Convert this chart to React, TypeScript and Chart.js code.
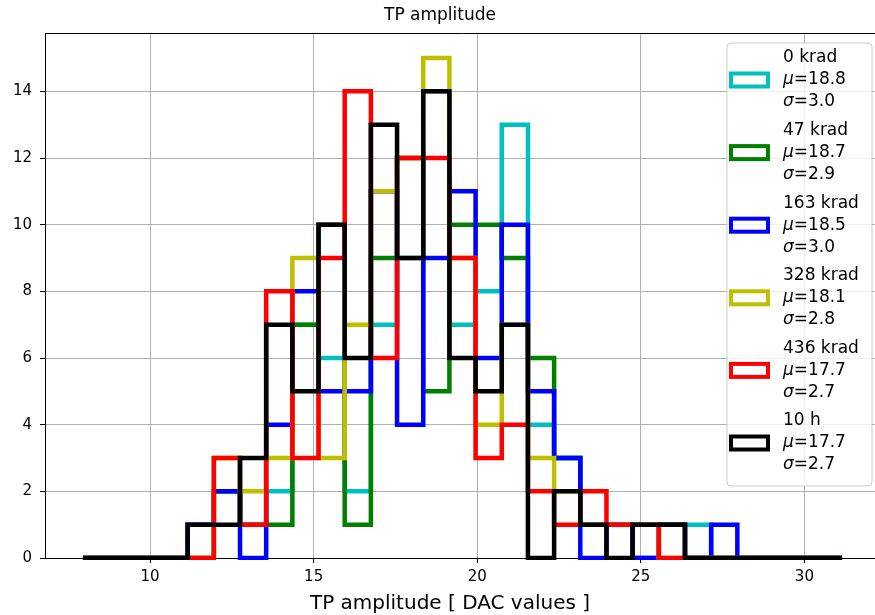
import { useEffect, useRef } from 'react';
import { Chart, registerables } from 'chart.js';

Chart.register(...registerables);

// Histogram binning (29 bins of 0.8 DAC units)
const BIN_START = 7.95;
const BIN_WIDTH = 0.8;

const seriesLabels = ['0 krad', '47 krad', '163 krad', '328 krad', '436 krad', '10 h'];
const seriesMeans = ['18.8', '18.7', '18.5', '18.1', '17.7', '17.7'];
const seriesSigmas = ['3.0', '2.9', '3.0', '2.8', '2.7', '2.7'];
const seriesColors = ['#00bfbf', '#008000', '#0000ff', '#bfbf00', '#ff0000', '#000000'];

// Entries per bin for each dose step
const counts0krad = [0, 0, 0, 0, 1, 2, 1, 2, 7, 6, 2, 7, 9, 14, 7, 8, 13, 4, 3, 1, 1, 1, 1, 1, 0, 0, 0, 0, 0];
const counts47krad = [0, 0, 0, 0, 0, 2, 1, 1, 7, 10, 1, 9, 12, 5, 10, 10, 9, 6, 3, 1, 1, 0, 1, 0, 0, 0, 0, 0, 0];
const counts163krad = [0, 0, 0, 0, 1, 2, 0, 4, 8, 5, 5, 11, 4, 9, 11, 6, 10, 5, 3, 0, 1, 0, 1, 0, 1, 0, 0, 0, 0];
const counts328krad = [0, 0, 0, 0, 0, 3, 2, 3, 9, 3, 7, 11, 12, 15, 9, 4, 7, 3, 2, 1, 1, 1, 0, 0, 0, 0, 0, 0, 0];
const counts436krad = [0, 0, 0, 0, 0, 3, 1, 8, 3, 9, 14, 6, 12, 12, 9, 3, 4, 2, 1, 2, 1, 1, 0, 0, 0, 0, 0, 0, 0];
const counts10h = [0, 0, 0, 0, 1, 1, 3, 7, 5, 10, 6, 13, 9, 14, 6, 5, 7, 0, 2, 1, 0, 1, 1, 0, 0, 0, 0, 0, 0];

const allCounts = [counts0krad, counts47krad, counts163krad, counts328krad, counts436krad, counts10h];

const xTicks = [10, 15, 20, 25, 30];
const yTicks = [0, 2, 4, 6, 8, 10, 12, 14];

const X_MIN = 6.79;
const X_MAX = 32.31;
const Y_MAX = 15.75;

const FONT = "'DejaVu Sans', sans-serif";

// Outline of a step histogram: every bin contributes its two top corners
function stepOutline(counts: number[]) {
  const pts: { x: number; y: number }[] = [{ x: BIN_START, y: 0 }];
  counts.forEach((c, i) => {
    const left = BIN_START + i * BIN_WIDTH;
    pts.push({ x: left, y: c });
    pts.push({ x: left + BIN_WIDTH, y: c });
  });
  pts.push({ x: BIN_START + counts.length * BIN_WIDTH, y: 0 });
  return pts;
}

const textPlugin = {
  id: 'axesText',
  afterDraw(chart: any) {
    const ctx = chart.ctx as CanvasRenderingContext2D;
    const a = chart.chartArea;
    ctx.save();
    // top and right spines
    ctx.strokeStyle = '#000';
    ctx.lineWidth = 1;
    ctx.beginPath();
    ctx.moveTo(a.left, a.top + 0.5);
    ctx.lineTo(a.right, a.top + 0.5);
    ctx.lineTo(a.right - 0.5, a.bottom);
    ctx.stroke();

    ctx.fillStyle = '#000';
    ctx.textAlign = 'center';
    ctx.textBaseline = 'middle';
    ctx.font = `17px ${FONT}`;
    ctx.fillText('TP amplitude', 440, 16);
    ctx.font = `20px ${FONT}`;
    ctx.fillText('TP amplitude [ DAC values ]', 450, 604);
    ctx.restore();
  },
};

const legendPlugin = {
  id: 'statsLegend',
  afterDatasetsDraw(chart: any) {
    const ctx = chart.ctx as CanvasRenderingContext2D;
    const left = 727;
    const top = 43;
    const right = 872;
    const bottom = 486;
    const r = 4;
    ctx.save();
    ctx.beginPath();
    ctx.moveTo(left + r, top);
    ctx.arcTo(right, top, right, bottom, r);
    ctx.arcTo(right, bottom, left, bottom, r);
    ctx.arcTo(left, bottom, left, top, r);
    ctx.arcTo(left, top, right, top, r);
    ctx.closePath();
    ctx.fillStyle = 'rgba(255,255,255,0.8)';
    ctx.fill();
    ctx.strokeStyle = '#cccccc';
    ctx.lineWidth = 1;
    ctx.stroke();

    const step = 72.6;
    const lineGap = 22;
    const textX = 783;
    ctx.textBaseline = 'middle';
    ctx.textAlign = 'left';
    ctx.fillStyle = '#000';
    seriesLabels.forEach((label, i) => {
      const yMid = top + 37 + i * step;
      // handle
      ctx.strokeStyle = seriesColors[i];
      ctx.lineWidth = 4;
      ctx.lineJoin = 'miter';
      ctx.strokeRect(731, yMid - 6.5, 37, 13);
      // text
      ctx.font = `17px ${FONT}`;
      ctx.fillText(label, textX, yMid - lineGap);
      const drawStat = (sym: string, val: string, y: number) => {
        ctx.font = `italic 17px ${FONT}`;
        ctx.fillText(sym, textX, y);
        const w = ctx.measureText(sym).width;
        ctx.font = `17px ${FONT}`;
        ctx.fillText('=' + val, textX + w, y);
      };
      drawStat('\u03bc', seriesMeans[i], yMid);
      drawStat('\u03c3', seriesSigmas[i], yMid + lineGap);
    });
    ctx.restore();
  },
};

export default function App() {
  const canvasRef = useRef<HTMLCanvasElement | null>(null);

  useEffect(() => {
    document.body.style.margin = '0';
    const canvas = canvasRef.current;
    if (!canvas) return;
    const chart = new Chart(canvas, {
      type: 'line',
      data: {
        datasets: allCounts.map((counts, i) => ({
          label: seriesLabels[i],
          data: stepOutline(counts),
          borderColor: seriesColors[i],
          backgroundColor: seriesColors[i],
          borderWidth: 4.5,
          borderJoinStyle: 'miter' as const,
          borderCapStyle: 'butt' as const,
          pointRadius: 0,
          tension: 0,
          fill: false,
          clip: 2,
          order: allCounts.length - i,
        })),
      },
      options: {
        animation: false,
        responsive: false,
        parsing: false,
        normalized: true,
        layout: { padding: { top: 33, right: 5, left: 0, bottom: 0 } },
        plugins: {
          legend: { display: false },
          title: { display: false },
          tooltip: { enabled: false },
        },
        scales: {
          x: {
            type: 'linear',
            min: X_MIN,
            max: X_MAX,
            afterFit: (scale: any) => {
              scale.height = 57;
            },
            afterBuildTicks: (scale: any) => {
              scale.ticks = xTicks.map((v) => ({ value: v }));
            },
            grid: { color: '#b0b0b0', lineWidth: 1, tickColor: '#000', tickLength: 5 },
            border: { display: true, color: '#000', width: 1 },
            ticks: { color: '#000', font: { family: FONT, size: 15 }, padding: 5, maxRotation: 0 },
          },
          y: {
            type: 'linear',
            min: 0,
            max: Y_MAX,
            afterFit: (scale: any) => {
              scale.width = 45;
            },
            afterBuildTicks: (scale: any) => {
              scale.ticks = yTicks.map((v) => ({ value: v }));
            },
            grid: { color: '#b0b0b0', lineWidth: 1, tickColor: '#000', tickLength: 5 },
            border: { display: true, color: '#000', width: 1 },
            ticks: { color: '#000', font: { family: FONT, size: 15 }, padding: 8 },
          },
        },
      },
      plugins: [legendPlugin, textPlugin],
    } as any);
    return () => chart.destroy();
  }, []);

  return (
    <div style={{ position: 'absolute', left: 0, top: 0, width: 875, height: 615, overflow: 'hidden', background: '#fff' }}>
      <canvas ref={canvasRef} width={885} height={615} style={{ display: 'block' }} />
    </div>
  );
}
